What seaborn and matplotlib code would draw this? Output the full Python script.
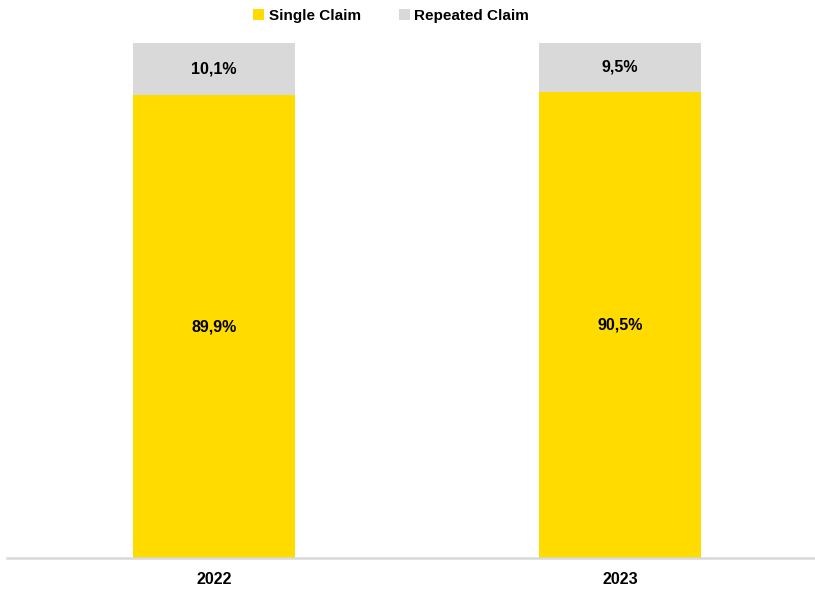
import matplotlib
matplotlib.use("Agg")
import matplotlib.pyplot as plt
from matplotlib.patches import Patch
import seaborn as sns
import pandas as pd

years = ["2022", "2023"]
single_claim = [89.9, 90.5]
repeated_claim = [10.1, 9.5]

YELLOW = "#FFDB00"
GREY = "#D9D9D9"

sns.set_theme(style="white")
plt.rcParams["font.family"] = ["Liberation Sans", "DejaVu Sans"]
plt.rcParams["text.color"] = "black"
plt.rcParams["xtick.color"] = "black"

df = pd.DataFrame({"year": years, "single": single_claim, "repeated": repeated_claim})
df["total"] = df["single"] + df["repeated"]

fig = plt.figure(figsize=(8.15, 5.89), dpi=100)
ax = fig.add_axes([7 / 815, 31 / 589, 808 / 815, 515 / 589])

# stacked bars: full stack in grey, single-claim share drawn over it
sns.barplot(data=df, x="year", y="total", color=GREY, width=0.4, ax=ax,
            saturation=1, linewidth=0)
sns.barplot(data=df, x="year", y="single", color=YELLOW, width=0.4, ax=ax,
            saturation=1, linewidth=0)

for i, (s, r) in enumerate(zip(single_claim, repeated_claim)):
    ax.text(i, s / 2, f"{s:.1f}%".replace(".", ","), ha="center", va="center",
            fontsize=11.5, fontweight="bold", color="black")
    ax.text(i, s + r / 2, f"{r:.1f}%".replace(".", ","), ha="center", va="center",
            fontsize=11.5, fontweight="bold", color="black")

ax.set_xlim(-0.51, 1.48)
ax.set_ylim(0, 100)
ax.set_xlabel("")
ax.set_ylabel("")
ax.set_yticks([])
ax.tick_params(axis="x", length=0, pad=10, labelsize=11.5, labelcolor="black")
for lbl in ax.get_xticklabels():
    lbl.set_fontweight("bold")
for side in ["top", "right", "left"]:
    ax.spines[side].set_visible(False)
ax.spines["bottom"].set_color(GREY)
ax.spines["bottom"].set_linewidth(1.8)

handles = [Patch(facecolor=YELLOW, edgecolor="none", label="Single Claim"),
           Patch(facecolor=GREY, edgecolor="none", label="Repeated Claim")]
leg = fig.legend(handles=handles, loc="upper center", bbox_to_anchor=(0.48, 1.008), ncol=2,
                 frameon=False, prop={"weight": "bold", "size": 11},
                 handlelength=0.7, handleheight=0.7, handletextpad=0.3, columnspacing=2.5)
for t in leg.get_texts():
    t.set_color("black")

fig.savefig("out.png", dpi=100)
